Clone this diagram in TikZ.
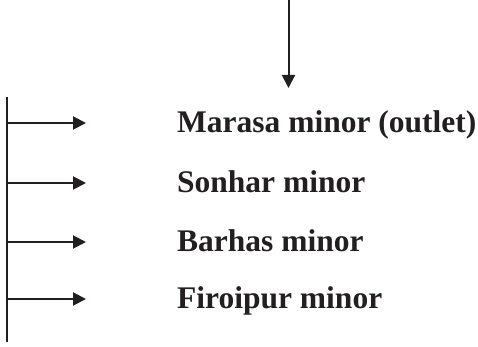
\documentclass[tikz,border=0pt]{standalone}
\usepackage{fontspec}
\setmainfont{Liberation Serif}
\usetikzlibrary{arrows.meta}
\definecolor{ink}{RGB}{35,31,32}
\begin{document}
\begin{tikzpicture}[x=1pt,y=1pt,
  flow/.style={draw=ink,line width=2pt,-{Triangle[length=13pt,width=13pt]}},
  bar/.style={draw=ink,line width=2pt},
  lbl/.style={anchor=base west,inner sep=0pt,text=ink,font=\bfseries\fontsize{31.5}{36}\selectfont}]
  \useasboundingbox (0,0) rectangle (478,347);
  % incoming flow from above
  \coordinate (inTop) at (288.5,347);
  \coordinate (inEnd) at (288.5,259);
  \draw[flow] (inTop) -- (inEnd);
  % vertical main channel
  \coordinate (barTop) at (7,250);
  \coordinate (barBot) at (7,5);
  \draw[bar] (barTop) -- (barBot);
  % branches and their labels
  \foreach \n/\y/\t in {a/224/Marasa minor (outlet),
                        b/164/Sonhar minor,
                        c/105/Barhas minor,
                        d/48/Firoipur minor}{
    \coordinate (s\n) at (7,\y);
    \coordinate (e\n) at (86,\y);
    \node[lbl] (l\n) at (177,\y-9.5) {\t};
    \draw[flow] (s\n) -- (e\n);
  }
\end{tikzpicture}
\end{document}
